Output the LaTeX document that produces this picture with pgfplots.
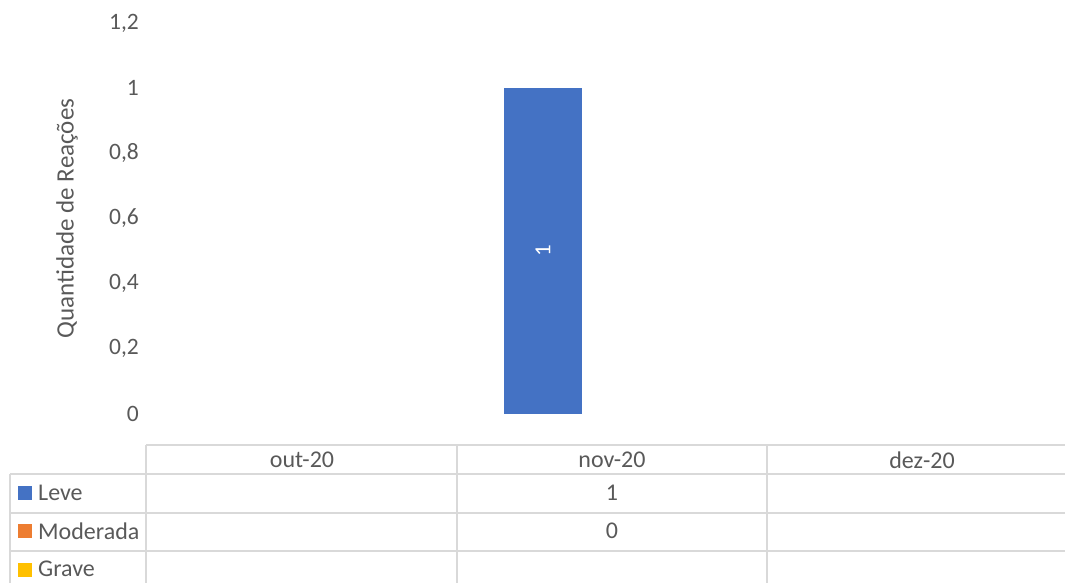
\documentclass[border=0pt]{standalone}
\usepackage{pgfplots}
\pgfplotsset{compat=1.18}
\usepackage{fontspec}
\setmainfont{Carlito}
\definecolor{leve}{HTML}{4472C4}
\definecolor{moder}{HTML}{ED7D31}
\definecolor{grave}{HTML}{FFC000}
\definecolor{txt}{HTML}{595959}
\definecolor{gridc}{HTML}{D9D9D9}
\begin{document}
\begin{tikzpicture}[x=1pt,y=1pt]
\useasboundingbox (0,0) rectangle (1065,583);
\clip (0,0) rectangle (1065,583);
\begin{axis}[
  at={(147pt,169pt)}, anchor=south west,
  scale only axis, width=930pt, height=391pt,
  xmin=-0.5, xmax=2.5, ymin=0, ymax=1.2,
  axis line style={draw=none}, major tick length=0pt,
  xtick=\empty,
  ytick={0,0.2,0.4,0.6,0.8,1,1.2},
  /pgf/number format/use comma,
  /pgf/number format/fixed,
  /pgf/number format/precision=1,
  /pgf/number format/assume math mode=true,
  yticklabel style={font=\fontsize{23.5}{28}\selectfont, text=txt, anchor=east, inner sep=0pt, xshift=-8pt},
  every axis y label/.style={at={(axis description cs:-0.086,0.5)}, rotate=90, anchor=center},
  ylabel={Quantidade de Reações},
  ylabel style={font=\fontsize{25}{30}\selectfont, text=txt},
]
% Leve
\addplot[ybar, bar width=78pt, bar shift=-69pt, fill=leve, draw=none] coordinates {(1,1)};
% Moderada (value 0, no visible bar) and Grave (no data) are not drawn
\addplot[only marks, mark=none, nodes near coords, point meta=explicit symbolic,
  every node near coord/.style={rotate=90, anchor=center, text=white, font=\fontsize{23}{28}\selectfont}]
  coordinates {(0.7774,0.5) [1]};
\end{axis}
% data table
\begin{scope}[gridc, line width=1.5pt]
\draw (146,138) -- (1065,138);
\draw (10,109) -- (1065,109);
\draw (10,70) -- (1065,70);
\draw (10,32) -- (1065,32);
\draw (10,109) -- (10,-2);
\draw (146,138) -- (146,-2);
\draw (457,138) -- (457,-2);
\draw (767,138) -- (767,-2);
\end{scope}
\begin{scope}[every node/.style={text=txt, font=\fontsize{24}{29}\selectfont, inner sep=0pt}]
\node at (302,123) {out-20};
\node at (612,123) {nov-20};
\node at (922,123) {dez-20};
\fill[leve] (18,83) rectangle (32,97);
\fill[moder] (18,45) rectangle (32,59);
\fill[grave] (18,6) rectangle (32,20);
\node[anchor=west] at (38,90) {Leve};
\node[anchor=west] at (38,52) {Moderada};
\node[anchor=west] at (38,14) {Grave};
\node at (612,90) {1};
\node at (612,52) {0};
\end{scope}
\end{tikzpicture}
\end{document}
